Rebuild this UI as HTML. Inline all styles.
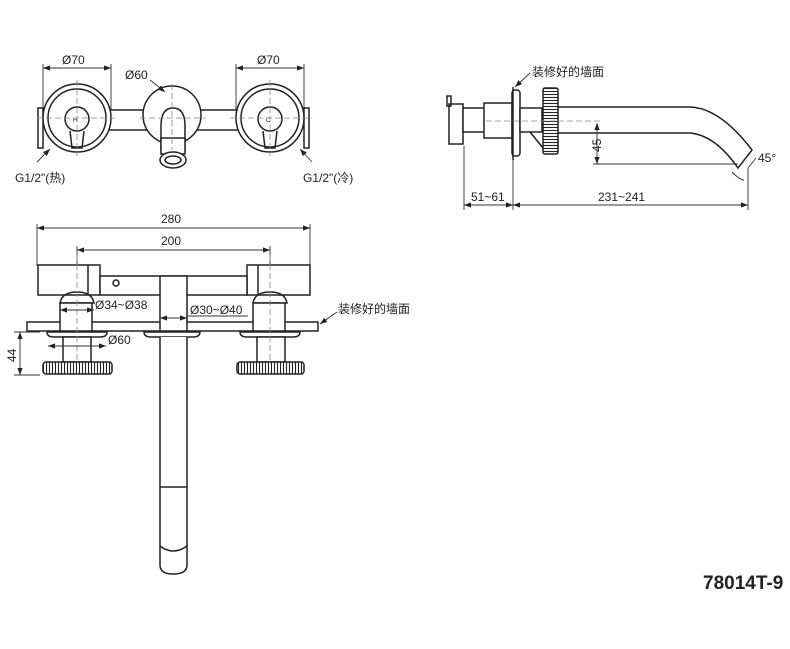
<!DOCTYPE html>
<html><head><meta charset="utf-8"><style>
html,body{margin:0;padding:0;background:#fff;width:790px;height:649px;overflow:hidden}
svg{display:block}
text{font-family:"Liberation Sans","Noto Sans CJK SC",sans-serif;fill:#222}
.l{stroke:#222;stroke-width:1.5;fill:none}
.t{stroke:#333;stroke-width:0.9;fill:none}
.d{stroke:#888;stroke-width:0.8;stroke-dasharray:6 3;fill:none}
.w{stroke:#222;stroke-width:1.5;fill:#fff}
</style></head><body>
<svg width="790" height="649" viewBox="0 0 790 649">
<defs>
<marker id="a" markerWidth="8" markerHeight="6" refX="8" refY="3" orient="auto-start-reverse"><path d="M0,0 L8,3 L0,6z" fill="#222"/></marker>
<pattern id="kn" width="3" height="10" patternUnits="userSpaceOnUse"><rect width="3" height="10" fill="#fff"/><line x1="1.5" y1="0" x2="1.5" y2="10" stroke="#222" stroke-width="1.1"/></pattern>
<pattern id="kh" width="10" height="3" patternUnits="userSpaceOnUse"><rect width="10" height="3" fill="#fff"/><line x1="0" y1="1.5" x2="10" y2="1.5" stroke="#222" stroke-width="1.1"/></pattern>
</defs>

<line class="t" x1="43" y1="64" x2="43" y2="112"/><line class="t" x1="111" y1="64" x2="111" y2="112"/>
<line class="t" x1="43" y1="68" x2="111" y2="68" marker-start="url(#a)" marker-end="url(#a)"/>
<text x="62" y="64" font-size="12">Ø70</text>
<line class="t" x1="236" y1="64" x2="236" y2="112"/><line class="t" x1="304" y1="64" x2="304" y2="112"/>
<line class="t" x1="236" y1="68" x2="304" y2="68" marker-start="url(#a)" marker-end="url(#a)"/>
<text x="257" y="64" font-size="12">Ø70</text>
<rect class="l" x="38" y="108" width="5" height="40"/>
<rect class="l" x="304" y="108" width="5" height="40"/>
<rect class="w" x="105" y="110" width="140" height="20"/>
<circle class="w" cx="77" cy="118" r="34"/><circle class="l" cx="77" cy="118" r="29"/>
<circle class="l" cx="77" cy="119" r="12"/>
<path class="l" d="M70,131 L72,148 L82,148 L84,131"/>
<circle class="w" cx="270" cy="118" r="34"/><circle class="l" cx="270" cy="118" r="29"/>
<circle class="l" cx="270" cy="119" r="12"/>
<path class="l" d="M263,131 L265,148 L275,148 L277,131"/>
<text x="73" y="122" font-size="6">H</text><text x="266" y="122" font-size="6">C</text>
<circle class="w" cx="172" cy="115" r="29"/>
<path class="w" d="M161,150 L161,126 Q161,108 173,108 Q185,108 185,126 L185,150 Z"/>
<rect class="w" x="161" y="138" width="24" height="16"/>
<ellipse class="w" cx="173" cy="160" rx="13" ry="8"/>
<ellipse class="l" cx="173" cy="160" rx="8" ry="4"/>
<line class="d" x1="37" y1="118" x2="118" y2="118"/><line class="d" x1="77" y1="80" x2="77" y2="156"/>
<line class="d" x1="230" y1="118" x2="312" y2="118"/><line class="d" x1="270" y1="80" x2="270" y2="156"/>
<line class="d" x1="140" y1="118" x2="206" y2="118"/><line class="d" x1="172" y1="84" x2="172" y2="150"/>
<text x="125" y="79" font-size="12">Ø60</text>
<line class="t" x1="150" y1="80" x2="165" y2="92" marker-end="url(#a)"/>
<line class="t" x1="37" y1="162" x2="50" y2="149" marker-end="url(#a)"/>
<text x="15" y="182" font-size="12">G1/2"(热)</text>
<line class="t" x1="312" y1="162" x2="300" y2="149" marker-end="url(#a)"/>
<text x="303" y="182" font-size="12">G1/2"(冷)</text>

<rect class="w" x="449" y="104" width="14" height="40"/>
<rect class="l" x="447" y="96" width="4" height="10"/>
<rect class="w" x="463" y="108" width="22" height="24"/>
<rect class="w" x="484" y="103" width="28" height="35"/>
<rect class="w" x="512" y="90" width="8" height="66" rx="3"/>
<line class="l" x1="513" y1="87" x2="513" y2="160"/>
<rect class="w" x="520" y="108" width="22" height="24"/>
<path class="l" d="M530,132 L543,148"/>
<rect x="543" y="88" width="15" height="66" fill="url(#kh)" stroke="#222" stroke-width="1.5" rx="2"/>
<path class="l" d="M558,107 L690,107 Q720,108 752,150 L738,168 Q715,135 690,133 L558,133"/>
<line class="d" x1="486" y1="121" x2="602" y2="121"/>
<line class="t" x1="593" y1="164" x2="738" y2="164"/>
<line class="t" x1="597" y1="123" x2="597" y2="164" marker-start="url(#a)" marker-end="url(#a)"/>
<text transform="translate(601,152) rotate(-90)" font-size="12">45</text>
<text x="758" y="162" font-size="12">45°</text>
<path class="t" d="M732,172 Q740,180 744,180"/>
<line class="t" x1="756" y1="158" x2="748" y2="168"/>
<line class="t" x1="464" y1="146" x2="464" y2="210"/>
<line class="t" x1="513" y1="160" x2="513" y2="210"/>
<line class="t" x1="748" y1="168" x2="748" y2="210"/>
<line class="t" x1="464" y1="205" x2="513" y2="205" marker-start="url(#a)" marker-end="url(#a)"/>
<line class="t" x1="513" y1="205" x2="748" y2="205" marker-start="url(#a)" marker-end="url(#a)"/>
<text x="471" y="201" font-size="12">51~61</text>
<text x="598" y="201" font-size="12">231~241</text>
<text x="532" y="76" font-size="12" font-family="Liberation Serif,Noto Serif CJK SC,serif">装修好的墙面</text>
<line class="t" x1="530" y1="73" x2="515" y2="87" marker-end="url(#a)"/>

<line class="t" x1="37" y1="224" x2="37" y2="266"/><line class="t" x1="310" y1="224" x2="310" y2="266"/>
<line class="t" x1="37" y1="228" x2="310" y2="228" marker-start="url(#a)" marker-end="url(#a)"/>
<text x="161" y="223" font-size="12">280</text>
<line class="t" x1="77" y1="246" x2="77" y2="266"/><line class="t" x1="270" y1="246" x2="270" y2="266"/>
<line class="t" x1="77" y1="250" x2="270" y2="250" marker-start="url(#a)" marker-end="url(#a)"/>
<text x="161" y="245" font-size="12">200</text>
<rect class="w" x="27" y="322" width="291" height="9"/>
<rect class="w" x="38" y="265" width="62" height="30"/>
<rect class="w" x="247" y="265" width="63" height="30"/>
<line class="l" x1="88" y1="265" x2="88" y2="295"/><line class="l" x1="258" y1="265" x2="258" y2="295"/>
<rect class="w" x="100" y="276" width="147" height="19"/>
<circle class="l" cx="116" cy="283" r="3"/>
<rect class="w" x="160" y="276" width="27" height="55"/>
<path class="l" d="M60,303 Q62,292 77,292 Q92,292 94,303 Z"/>
<rect class="w" x="60" y="303" width="32" height="28"/>
<path class="l" d="M253,303 Q255,292 270,292 Q285,292 287,303 Z"/>
<rect class="w" x="253" y="303" width="32" height="28"/>
<path class="w" d="M47,332 L107,332 Q107,337 100,337 L54,337 Q47,337 47,332Z"/>
<path class="w" d="M240,332 L300,332 Q300,337 293,337 L247,337 Q240,337 240,332Z"/>
<path class="w" d="M144,332 L200,332 Q200,337 193,337 L151,337 Q144,337 144,332Z"/>
<rect class="w" x="63" y="337" width="28" height="25"/>
<rect class="w" x="257" y="337" width="28" height="25"/>
<rect x="43" y="362" width="69" height="12" rx="3" fill="url(#kn)" stroke="#222" stroke-width="1.5"/>
<rect x="237" y="362" width="67" height="12" rx="3" fill="url(#kn)" stroke="#222" stroke-width="1.5"/>
<path class="w" d="M160,337 L160,565 Q160,574 173,574 Q187,574 187,565 L187,337"/>
<line class="l" x1="160" y1="487" x2="187" y2="487"/>
<path class="l" d="M160,546 Q173,556 187,546"/>
<line class="d" x1="77" y1="255" x2="77" y2="360"/><line class="d" x1="270" y1="255" x2="270" y2="360"/>
<line class="t" x1="60" y1="310" x2="94" y2="310" marker-start="url(#a)" marker-end="url(#a)"/>
<text x="95" y="309" font-size="12">Ø34~Ø38</text>
<line class="t" x1="160" y1="318" x2="187" y2="318" marker-start="url(#a)" marker-end="url(#a)"/>
<text x="190" y="314" font-size="12">Ø30~Ø40</text>
<line class="t" x1="187" y1="316" x2="248" y2="316"/>
<line class="t" x1="48" y1="346" x2="106" y2="346" marker-start="url(#a)" marker-end="url(#a)"/>
<text x="108" y="344" font-size="12">Ø60</text>
<line class="t" x1="14" y1="332" x2="40" y2="332"/><line class="t" x1="14" y1="375" x2="40" y2="375"/>
<line class="t" x1="20" y1="332" x2="20" y2="375" marker-start="url(#a)" marker-end="url(#a)"/>
<text transform="translate(16,362) rotate(-90)" font-size="12">44</text>
<line class="t" x1="337" y1="312" x2="320" y2="324" marker-end="url(#a)"/>
<text x="338" y="313" font-size="12" font-family="Liberation Serif,Noto Serif CJK SC,serif">装修好的墙面</text>

<text x="703" y="589" font-size="19" font-weight="bold" fill="#111">78014T-9</text>
</svg>
</body></html>
